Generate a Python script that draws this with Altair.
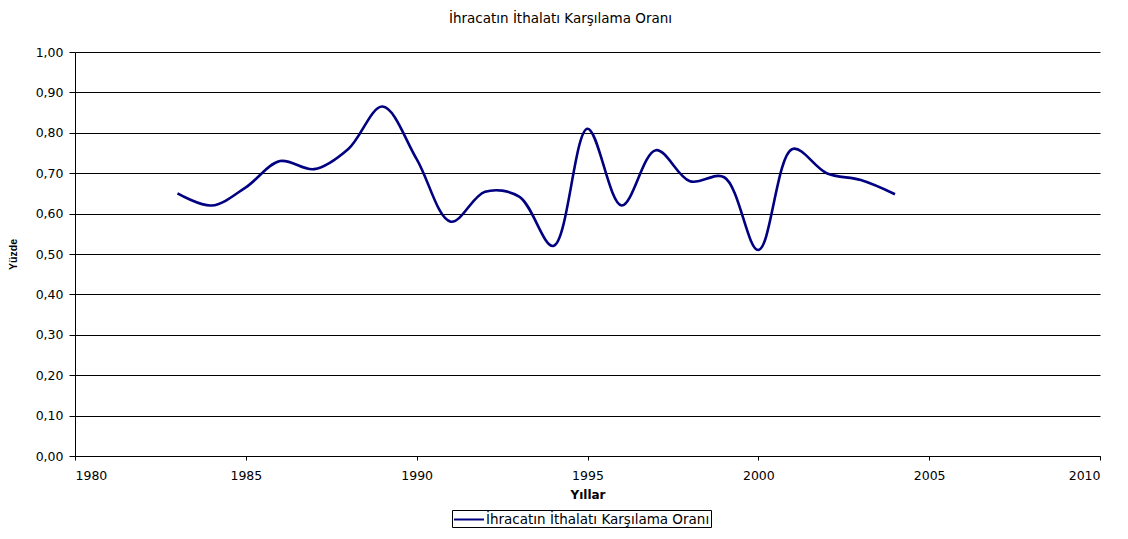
import altair as alt
import pandas as pd

years = list(range(1983, 2005))
values = [0.65, 0.62, 0.665, 0.73, 0.71, 0.76, 0.865, 0.735, 0.58, 0.654, 0.642,
          0.52, 0.81, 0.62, 0.757, 0.68, 0.69, 0.51, 0.76, 0.70, 0.683, 0.648]
series_name = "İhracatın İthalatı Karşılama Oranı"
x_ticks = [1980, 1985, 1990, 1995, 2000, 2005, 2010]
y_ticks = [0.0, 0.1, 0.2, 0.3, 0.4, 0.5, 0.6, 0.7, 0.8, 0.9, 1.0]

df = pd.DataFrame({"Yil": years, "Oran": values, "Seri": [series_name] * len(years)})

FONT = "DejaVu Sans"

line = alt.Chart(df).mark_line(interpolate="catmull-rom", strokeWidth=2.6).encode(
    x=alt.X("Yil:Q", scale=alt.Scale(domain=[1980, 2010], nice=False),
            axis=alt.Axis(title="Yıllar", values=x_ticks, format="d", grid=False,
                          domainColor="#000", tickColor="#000", tickSize=4,
                          labelColor="#000", labelFontSize=12.5, labelFont=FONT,
                          titleFont=FONT, titleFontSize=12, titleFontWeight="bold",
                          titleColor="#000", titlePadding=8, labelPadding=9)),
    y=alt.Y("Oran:Q", scale=alt.Scale(domain=[0, 1], nice=False),
            axis=alt.Axis(title="Yüzde", values=y_ticks,
                          labelExpr="replace(format(datum.value, '.2f'), '.', ',')",
                          grid=True, gridColor="#000", gridWidth=1,
                          domainColor="#000", tickColor="#000", tickSize=6,
                          labelColor="#000", labelFontSize=12.5, labelFont=FONT,
                          titleFont="Liberation Sans", titleFontSize=10.5,
                          titleFontWeight="bold",
                          titleColor="#000", titlePadding=17, labelPadding=6)),
    color=alt.Color("Seri:N", scale=alt.Scale(range=["#000080"]),
                    legend=alt.Legend(title=None, orient="none", legendX=377, legendY=458,
                                      strokeColor="#000", padding=1,
                                      symbolType="M-1,0H3",
                                      symbolStrokeWidth=2, symbolSize=225, labelOffset=16,
                                      labelFont=FONT, labelFontSize=13.5, labelColor="#000",
                                      labelLimit=400)),
)

chart = line.properties(
    width=1025, height=404,
    autosize=alt.AutoSizeParams(type="none"),
    padding={"left": 67, "top": 44, "right": 20, "bottom": 75},
    title=alt.TitleParams(series_name, font=FONT, fontSize=13.5, fontWeight="normal",
                          color="#000", dx=-27, offset=21),
).configure_view(stroke=None).configure_axis(domainWidth=1)

chart.save("out.html", embed_options={"renderer": "svg", "actions": False})
